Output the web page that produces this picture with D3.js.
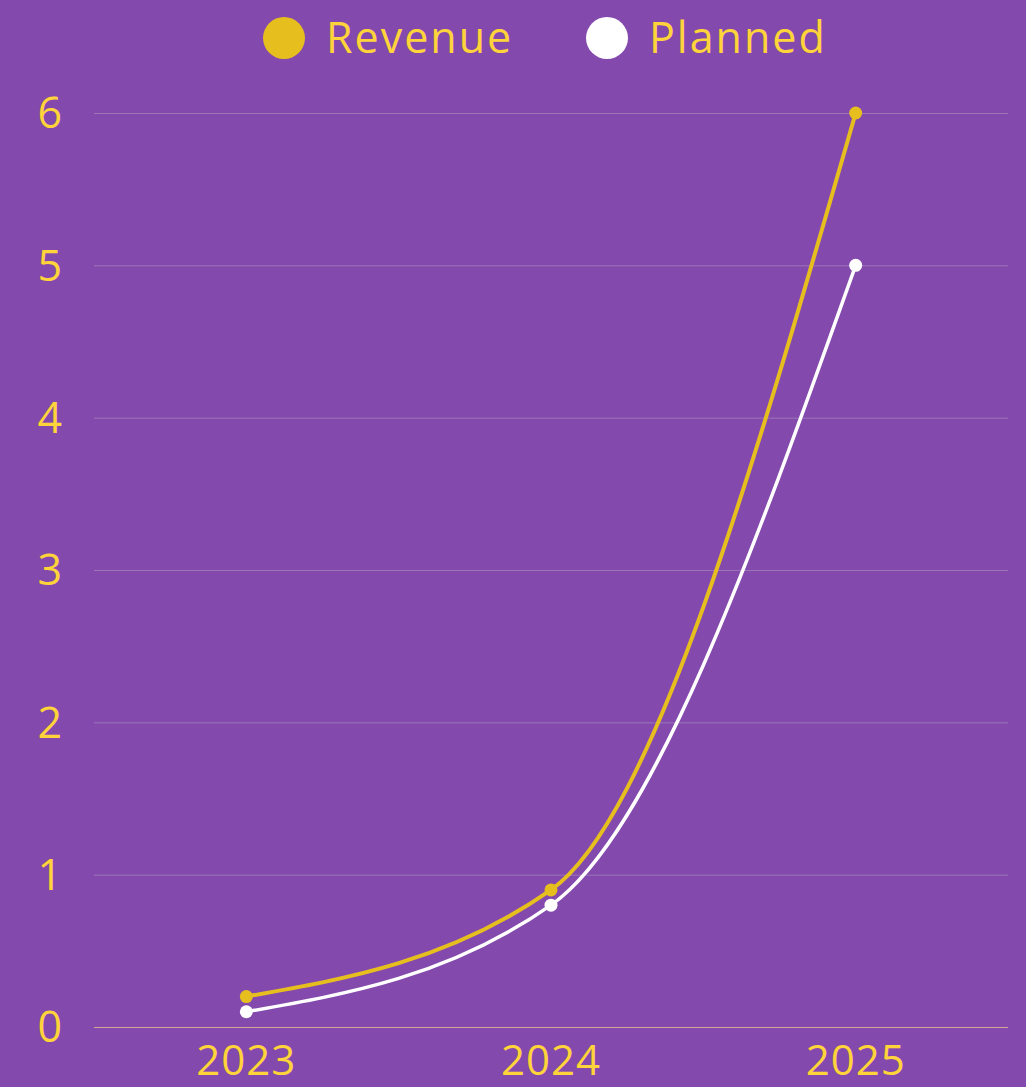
<!DOCTYPE html>
<html><head><meta charset="utf-8">
<script src="https://cdn.jsdelivr.net/npm/d3@7/dist/d3.min.js"></script>
<style>html,body{margin:0;padding:0;background:#8349AD;}svg{display:block;}</style>
</head><body>
<svg id="c" width="1026" height="1087"></svg>
<script>
const categories = ["2023", "2024", "2025"];
const revenue = [0.2, 0.9, 6];
const planned = [0.1, 0.8, 5];
const yTicks = [0, 1, 2, 3, 4, 5, 6];
const seriesNames = ["Revenue", "Planned"];
const seriesColors = ["#E6BF1F", "#FFFFFF"];

const W = 1026, H = 1087;
const m = {left: 94, right: 18, top: 113, bottom: 60};
const font = "'Open Sans', sans-serif";
const txt = "#FFD43B";
const svg = d3.select("#c");
svg.append("rect").attr("width", W).attr("height", H).attr("fill", "#8349AD");

const x = d3.scalePoint().domain(categories).range([m.left, W - m.right]).padding(0.5);
const y = d3.scaleLinear().domain([0, 6]).range([H - m.bottom, m.top]);

// grid
svg.append("g").selectAll("line").data(yTicks).join("line")
  .attr("x1", m.left).attr("x2", W - m.right)
  .attr("y1", d => y(d) + 0.5).attr("y2", d => y(d) + 0.5)
  .attr("stroke", d => d === 0 ? "rgba(240,200,140,0.75)" : "rgba(200,200,200,0.35)")
  .attr("stroke-width", 1);

// y labels
svg.append("g").selectAll("text").data(yTicks).join("text")
  .attr("x", 62).attr("y", d => y(d)).attr("dy", "0.36em")
  .attr("text-anchor", "end").attr("fill", txt)
  .attr("font-family", font).attr("font-size", 43).text(d => d);

// x labels
svg.append("g").selectAll("text").data(categories).join("text")
  .attr("x", d => x(d)).attr("y", 1075)
  .attr("text-anchor", "middle").attr("fill", txt)
  .attr("font-family", font).attr("font-size", 42).attr("letter-spacing", 1).text(d => d);

const line = d3.line().x((d, i) => x(categories[i])).y(d => y(d)).curve(d3.curveMonotoneX);

const series = [planned, revenue];
const colors = [seriesColors[1], seriesColors[0]];
const widths = [3.5, 4];
series.forEach((vals, si) => {
  svg.append("path").datum(vals).attr("d", line)
    .attr("fill", "none").attr("stroke", colors[si]).attr("stroke-width", widths[si]);
  svg.append("g").selectAll("circle").data(vals).join("circle")
    .attr("cx", (d, i) => x(categories[i])).attr("cy", d => y(d)).attr("r", 6.5).attr("fill", colors[si]);
});

// legend
const legX = [284, 607];
seriesNames.forEach((name, i) => {
  svg.append("circle").attr("cx", legX[i]).attr("cy", 38).attr("r", 21).attr("fill", seriesColors[i]);
  svg.append("text").attr("x", legX[i] + 42).attr("y", 38).attr("dy", "0.36em")
    .attr("fill", txt).attr("font-family", font).attr("font-size", 43).attr("letter-spacing", 2)
    .text(name);
});
</script>
</body></html>
